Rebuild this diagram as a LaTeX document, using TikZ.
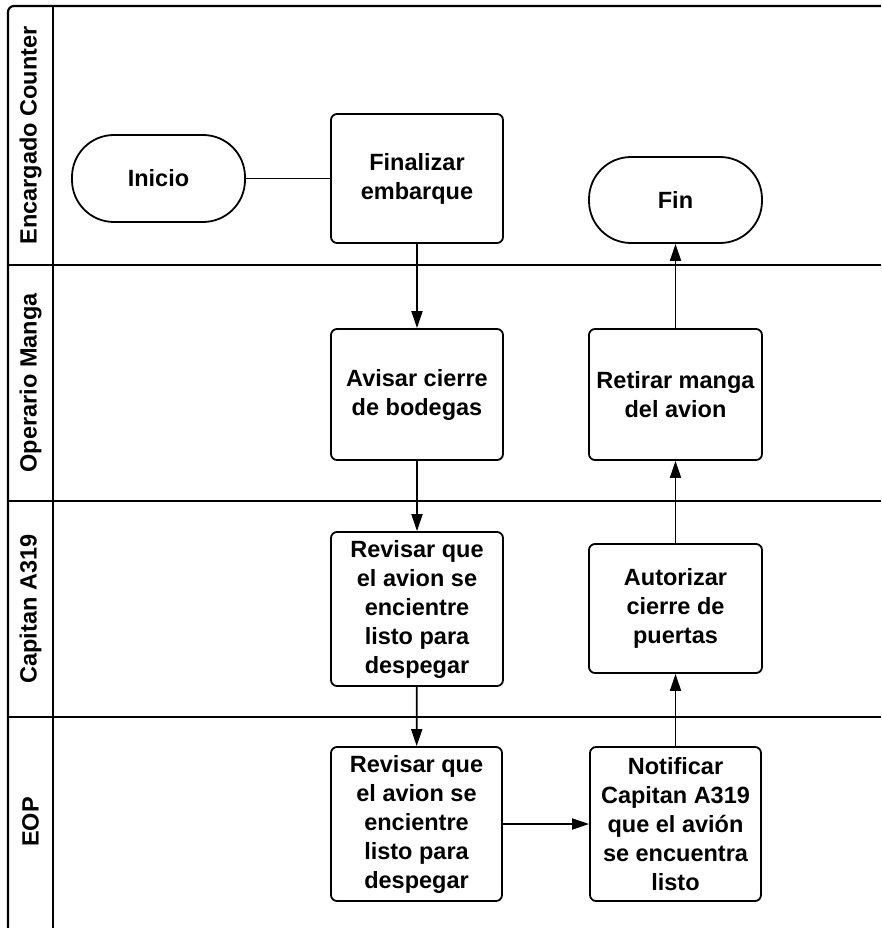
\documentclass[tikz,border=0pt]{standalone}
\usepackage{fontspec}
\setmainfont{Liberation Sans}
\usetikzlibrary{arrows.meta}
\begin{document}
\begin{tikzpicture}[x=1pt,y=-1pt,
  lane/.style={line width=2.2pt},
  proc/.style={draw,line width=1.8pt,rounded corners=6pt,inner sep=0pt,align=center,
    font=\bfseries\fontsize{23.5}{29}\selectfont},
  term/.style={proc,rounded corners=42pt},
  lanelabel/.style={rotate=90,font=\bfseries\fontsize{23.5}{28}\selectfont},
  flow/.style={line width=1.8pt,-{Triangle[length=17pt,width=11pt]}},
  link/.style={line width=1.8pt}]
\useasboundingbox (0,0) rectangle (881,928);

% pool frame and lanes
\draw[lane,rounded corners=6pt] (8,928) -- (8,6) -- (881,6);
\draw[lane] (53,6) -- (53,928);
\draw[lane] (8,265) -- (881,265);
\draw[lane] (8,501) -- (881,501);
\draw[lane] (8,717) -- (881,717);

% lane titles
\node[lanelabel] (l1) at (30.5,135.5) {Encargado Counter};
\node[lanelabel] (l2) at (30.5,383) {Operario Manga};
\node[lanelabel] (l3) at (30.5,609) {Capitan A319};
\node[lanelabel] (l4) at (30.5,822) {EOP};

% steps
\node[term,minimum width=173pt,minimum height=87pt] (inicio) at (158.5,178.5) {Inicio};
\node[proc,minimum width=172pt,minimum height=129pt] (fin1) at (417,178.5) {Finalizar\\embarque};
\node[term,minimum width=173pt,minimum height=86pt] (fin) at (675.5,200) {Fin};
\node[proc,minimum width=172pt,minimum height=131pt] (avisar) at (417,394.5) {Avisar cierre\\de bodegas};
\node[proc,minimum width=173pt,minimum height=131pt] (retirar) at (675.5,394.5) {Retirar manga\\del avion};
\node[proc,minimum width=172pt,minimum height=154pt] (rev1) at (417,609) {Revisar que\\el avion se\\encientre\\listo para\\despegar};
\node[proc,minimum width=173pt,minimum height=129pt] (autorizar) at (675.5,608.5) {Autorizar\\cierre de\\puertas};
\node[proc,minimum width=171pt,minimum height=154pt] (rev2) at (416.5,824) {Revisar que\\el avion se\\encientre\\listo para\\despegar};
\node[proc,minimum width=171pt,minimum height=154pt] (notif) at (675.5,824) {Notificar\\Capitan A319\\que el avión\\se encuentra\\listo};

% connectors
\draw[link] (inicio) -- (fin1);
\draw[flow] (fin1) -- (avisar);
\draw[flow] (avisar) -- (rev1);
\draw[flow] (rev1) -- (rev2);
\draw[flow] (rev2) -- (notif);
\draw[flow] (notif) -- (autorizar);
\draw[flow] (autorizar) -- (retirar);
\draw[flow] (retirar) -- (fin);
\end{tikzpicture}
\end{document}
